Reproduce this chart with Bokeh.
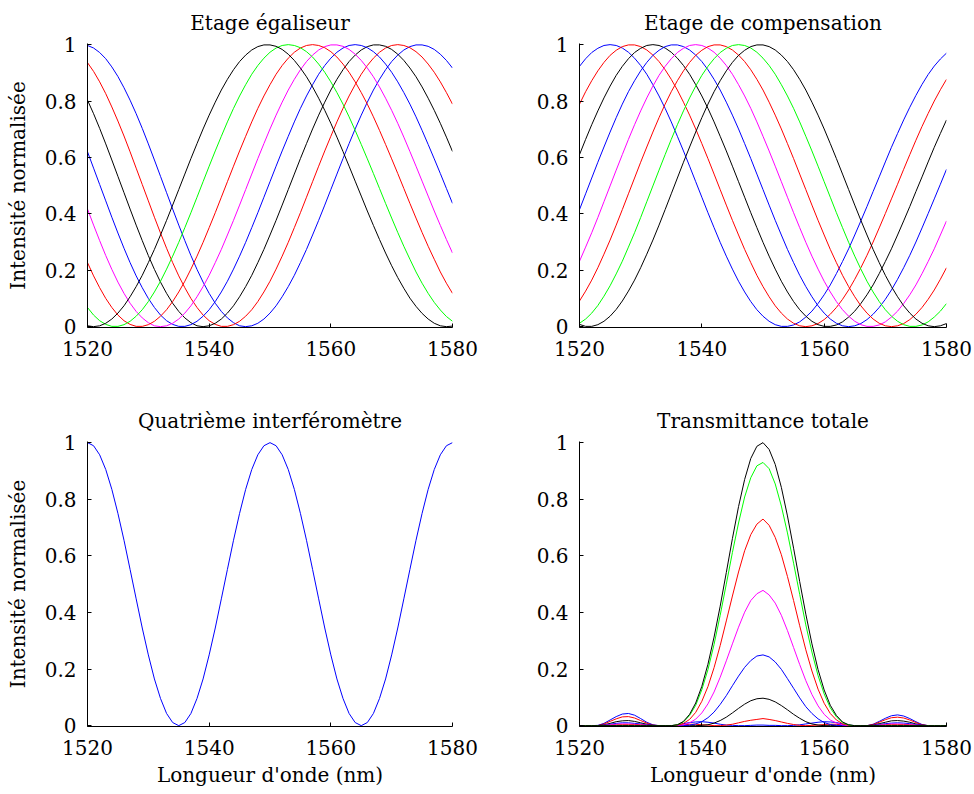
from bokeh.plotting import figure
from bokeh.layouts import row, column
from bokeh.models import Range1d, FixedTicker, NumeralTickFormatter
from bokeh.embed import file_html
from bokeh.resources import INLINE

# ---------------- data ----------------
wavelength = [1520, 1521, 1522, 1523, 1524, 1525, 1526, 1527, 1528, 1529,
              1530, 1531, 1532, 1533, 1534, 1535, 1536, 1537, 1538, 1539,
              1540, 1541, 1542, 1543, 1544, 1545, 1546, 1547, 1548, 1549,
              1550, 1551, 1552, 1553, 1554, 1555, 1556, 1557, 1558, 1559,
              1560, 1561, 1562, 1563, 1564, 1565, 1566, 1567, 1568, 1569,
              1570, 1571, 1572, 1573, 1574, 1575, 1576, 1577, 1578, 1579,
              1580]

x_ticks = [1520, 1540, 1560, 1580]
y_ticks = [0, 0.2, 0.4, 0.6, 0.8, 1]

# Etage egaliseur (top left)
tl_blue_a = [0.997, 0.988, 0.972, 0.950, 0.921, 0.887, 0.847, 0.803, 0.755, 0.703, 0.648, 0.591, 0.533, 0.475, 0.417, 0.360, 0.305, 0.252, 0.203, 0.158, 0.118, 0.083, 0.054, 0.031, 0.014, 0.003,
             0.000, 0.003, 0.012, 0.027, 0.048, 0.074, 0.106, 0.142, 0.182, 0.227, 0.274, 0.325, 0.377, 0.431, 0.486, 0.541, 0.596, 0.649, 0.701, 0.750, 0.796, 0.839, 0.877, 0.911, 0.940, 0.963, 0.981, 0.993, 0.999,
             0.999, 0.994, 0.983, 0.966, 0.944, 0.917]
tl_red_a = [0.936, 0.905, 0.868, 0.826, 0.779, 0.729, 0.676, 0.620, 0.562, 0.504, 0.446, 0.388, 0.332, 0.278, 0.227, 0.180, 0.138, 0.100, 0.068, 0.041, 0.021, 0.008, 0.001,
            0.001, 0.007, 0.019, 0.037, 0.060, 0.089, 0.123, 0.161, 0.204, 0.250, 0.299, 0.351, 0.404, 0.459, 0.514, 0.569, 0.623, 0.675, 0.726, 0.774, 0.818, 0.858, 0.895, 0.926, 0.952, 0.973, 0.988, 0.997, 1.000,
            0.997, 0.989, 0.975, 0.956, 0.931, 0.902, 0.868, 0.830, 0.789]
tl_black_a = [0.803, 0.755, 0.703, 0.648, 0.591, 0.533, 0.475, 0.417, 0.360, 0.305, 0.252, 0.203, 0.158, 0.118, 0.083, 0.054, 0.031, 0.014, 0.003,
              0.000, 0.003, 0.012, 0.027, 0.048, 0.074, 0.106, 0.142, 0.182, 0.227, 0.274, 0.325, 0.377, 0.431, 0.486, 0.541, 0.596, 0.649, 0.701, 0.750, 0.796, 0.839, 0.877, 0.911, 0.940, 0.963, 0.981, 0.993, 0.999,
              0.999, 0.994, 0.983, 0.966, 0.944, 0.917, 0.886, 0.850, 0.810, 0.767, 0.721, 0.672, 0.621]
tl_blue_b = [0.620, 0.562, 0.504, 0.446, 0.388, 0.332, 0.278, 0.227, 0.180, 0.138, 0.100, 0.068, 0.041, 0.021, 0.008, 0.001,
             0.001, 0.007, 0.019, 0.037, 0.060, 0.089, 0.123, 0.161, 0.204, 0.250, 0.299, 0.351, 0.404, 0.459, 0.514, 0.569, 0.623, 0.675, 0.726, 0.774, 0.818, 0.858, 0.895, 0.926, 0.952, 0.973, 0.988, 0.997, 1.000,
             0.997, 0.989, 0.975, 0.956, 0.931, 0.902, 0.868, 0.830, 0.789, 0.744, 0.696, 0.646, 0.595, 0.543, 0.490, 0.437]
tl_magenta = [0.417, 0.360, 0.305, 0.252, 0.203, 0.158, 0.118, 0.083, 0.054, 0.031, 0.014, 0.003,
              0.000, 0.003, 0.012, 0.027, 0.048, 0.074, 0.106, 0.142, 0.182, 0.227, 0.274, 0.325, 0.377, 0.431, 0.486, 0.541, 0.596, 0.649, 0.701, 0.750, 0.796, 0.839, 0.877, 0.911, 0.940, 0.963, 0.981, 0.993, 0.999,
              0.999, 0.994, 0.983, 0.966, 0.944, 0.917, 0.886, 0.850, 0.810, 0.767, 0.721, 0.672, 0.621, 0.569, 0.516, 0.463, 0.410, 0.359, 0.309, 0.261]
tl_red_b = [0.227, 0.180, 0.138, 0.100, 0.068, 0.041, 0.021, 0.008, 0.001,
            0.001, 0.007, 0.019, 0.037, 0.060, 0.089, 0.123, 0.161, 0.204, 0.250, 0.299, 0.351, 0.404, 0.459, 0.514, 0.569, 0.623, 0.675, 0.726, 0.774, 0.818, 0.858, 0.895, 0.926, 0.952, 0.973, 0.988, 0.997, 1.000,
            0.997, 0.989, 0.975, 0.956, 0.931, 0.902, 0.868, 0.830, 0.789, 0.744, 0.696, 0.646, 0.595, 0.543, 0.490, 0.437, 0.385, 0.334, 0.285, 0.239, 0.194, 0.154, 0.118]
tl_green = [0.068, 0.041, 0.021, 0.008, 0.001,
            0.001, 0.007, 0.019, 0.037, 0.060, 0.089, 0.123, 0.161, 0.204, 0.250, 0.299, 0.351, 0.404, 0.459, 0.514, 0.569, 0.623, 0.675, 0.726, 0.774, 0.818, 0.858, 0.895, 0.926, 0.952, 0.973, 0.988, 0.997, 1.000,
            0.997, 0.989, 0.975, 0.956, 0.931, 0.902, 0.868, 0.830, 0.789, 0.744, 0.696, 0.646, 0.595, 0.543, 0.490, 0.437, 0.385, 0.334, 0.285, 0.239, 0.194, 0.154, 0.118, 0.086, 0.059, 0.036, 0.019]
tl_black_b = [0.003,
              0.000, 0.003, 0.012, 0.027, 0.048, 0.074, 0.106, 0.142, 0.182, 0.227, 0.274, 0.325, 0.377, 0.431, 0.486, 0.541, 0.596, 0.649, 0.701, 0.750, 0.796, 0.839, 0.877, 0.911, 0.940, 0.963, 0.981, 0.993, 0.999,
              0.999, 0.994, 0.983, 0.966, 0.944, 0.917, 0.886, 0.850, 0.810, 0.767, 0.721, 0.672, 0.621, 0.569, 0.516, 0.463, 0.410, 0.359, 0.309, 0.261, 0.216, 0.174, 0.136, 0.101, 0.072, 0.047, 0.027, 0.012, 0.003, 0.000, 0.002]

# Etage de compensation (top right)
tr_blue_a = [0.923, 0.950, 0.972, 0.987, 0.997,
             1.000, 0.997, 0.988, 0.973, 0.952, 0.926, 0.895, 0.858, 0.818, 0.774, 0.726, 0.675, 0.623, 0.569, 0.514, 0.459, 0.404, 0.351, 0.299, 0.250, 0.204, 0.161, 0.123, 0.089, 0.060, 0.037, 0.019, 0.007, 0.001,
             0.001, 0.006, 0.017, 0.034, 0.055, 0.082, 0.113, 0.148, 0.188, 0.231, 0.276, 0.325, 0.375, 0.426, 0.479, 0.531, 0.584, 0.636, 0.685, 0.733, 0.778, 0.820, 0.859, 0.894, 0.924, 0.949, 0.970]
tr_red_a = [0.789, 0.833, 0.872, 0.907, 0.937, 0.962, 0.980, 0.993, 0.999,
            0.999, 0.993, 0.981, 0.963, 0.940, 0.911, 0.877, 0.839, 0.796, 0.750, 0.701, 0.649, 0.596, 0.541, 0.486, 0.431, 0.377, 0.325, 0.274, 0.227, 0.182, 0.142, 0.106, 0.074, 0.048, 0.027, 0.012, 0.003, 0.000,
            0.003, 0.011, 0.025, 0.044, 0.068, 0.097, 0.130, 0.168, 0.209, 0.253, 0.300, 0.350, 0.401, 0.453, 0.505, 0.558, 0.610, 0.661, 0.710, 0.756, 0.800, 0.840, 0.877]
tr_black_a = [0.610, 0.664, 0.716, 0.765, 0.811, 0.853, 0.891, 0.923, 0.950, 0.972, 0.987, 0.997,
              1.000, 0.997, 0.988, 0.973, 0.952, 0.926, 0.895, 0.858, 0.818, 0.774, 0.726, 0.675, 0.623, 0.569, 0.514, 0.459, 0.404, 0.351, 0.299, 0.250, 0.204, 0.161, 0.123, 0.089, 0.060, 0.037, 0.019, 0.007, 0.001,
              0.001, 0.006, 0.017, 0.034, 0.055, 0.082, 0.113, 0.148, 0.188, 0.231, 0.276, 0.325, 0.375, 0.426, 0.479, 0.531, 0.584, 0.636, 0.685, 0.733]
tr_blue_b = [0.415, 0.471, 0.527, 0.583, 0.637, 0.690, 0.741, 0.789, 0.833, 0.872, 0.907, 0.937, 0.962, 0.980, 0.993, 0.999,
             0.999, 0.993, 0.981, 0.963, 0.940, 0.911, 0.877, 0.839, 0.796, 0.750, 0.701, 0.649, 0.596, 0.541, 0.486, 0.431, 0.377, 0.325, 0.274, 0.227, 0.182, 0.142, 0.106, 0.074, 0.048, 0.027, 0.012, 0.003, 0.000,
             0.003, 0.011, 0.025, 0.044, 0.068, 0.097, 0.130, 0.168, 0.209, 0.253, 0.300, 0.350, 0.401, 0.453, 0.505, 0.558]
tr_magenta = [0.232, 0.282, 0.333, 0.387, 0.443, 0.499, 0.555, 0.610, 0.664, 0.716, 0.765, 0.811, 0.853, 0.891, 0.923, 0.950, 0.972, 0.987, 0.997,
              1.000, 0.997, 0.988, 0.973, 0.952, 0.926, 0.895, 0.858, 0.818, 0.774, 0.726, 0.675, 0.623, 0.569, 0.514, 0.459, 0.404, 0.351, 0.299, 0.250, 0.204, 0.161, 0.123, 0.089, 0.060, 0.037, 0.019, 0.007, 0.001,
              0.001, 0.006, 0.017, 0.034, 0.055, 0.082, 0.113, 0.148, 0.188, 0.231, 0.276, 0.325, 0.375]
tr_red_b = [0.091, 0.126, 0.165, 0.209, 0.257, 0.307, 0.360, 0.415, 0.471, 0.527, 0.583, 0.637, 0.690, 0.741, 0.789, 0.833, 0.872, 0.907, 0.937, 0.962, 0.980, 0.993, 0.999,
            0.999, 0.993, 0.981, 0.963, 0.940, 0.911, 0.877, 0.839, 0.796, 0.750, 0.701, 0.649, 0.596, 0.541, 0.486, 0.431, 0.377, 0.325, 0.274, 0.227, 0.182, 0.142, 0.106, 0.074, 0.048, 0.027, 0.012, 0.003, 0.000,
            0.003, 0.011, 0.025, 0.044, 0.068, 0.097, 0.130, 0.168, 0.209]
tr_green = [0.012, 0.027, 0.048, 0.075, 0.108, 0.145, 0.187, 0.232, 0.282, 0.333, 0.387, 0.443, 0.499, 0.555, 0.610, 0.664, 0.716, 0.765, 0.811, 0.853, 0.891, 0.923, 0.950, 0.972, 0.987, 0.997,
            1.000, 0.997, 0.988, 0.973, 0.952, 0.926, 0.895, 0.858, 0.818, 0.774, 0.726, 0.675, 0.623, 0.569, 0.514, 0.459, 0.404, 0.351, 0.299, 0.250, 0.204, 0.161, 0.123, 0.089, 0.060, 0.037, 0.019, 0.007, 0.001,
            0.001, 0.006, 0.017, 0.034, 0.055, 0.082]
tr_black_b = [0.008, 0.001, 0.001, 0.007, 0.019, 0.037, 0.061, 0.091, 0.126, 0.165, 0.209, 0.257, 0.307, 0.360, 0.415, 0.471, 0.527, 0.583, 0.637, 0.690, 0.741, 0.789, 0.833, 0.872, 0.907, 0.937, 0.962, 0.980, 0.993, 0.999,
              0.999, 0.993, 0.981, 0.963, 0.940, 0.911, 0.877, 0.839, 0.796, 0.750, 0.701, 0.649, 0.596, 0.541, 0.486, 0.431, 0.377, 0.325, 0.274, 0.227, 0.182, 0.142, 0.106, 0.074, 0.048, 0.027, 0.012, 0.003, 0.000,
              0.003, 0.011]

# Quatrieme interferometre (bottom left)
bl_blue = [1.000, 0.989, 0.957, 0.905, 0.835, 0.750, 0.655, 0.552, 0.448, 0.345, 0.250, 0.165, 0.096, 0.043, 0.011,
           0.000, 0.011, 0.043, 0.096, 0.165, 0.250, 0.345, 0.448, 0.552, 0.655, 0.750, 0.835, 0.905, 0.957, 0.989,
           1.000, 0.989, 0.957, 0.905, 0.835, 0.750, 0.655, 0.552, 0.448, 0.345, 0.250, 0.165, 0.096, 0.043, 0.011,
           0.000, 0.011, 0.043, 0.096, 0.165, 0.250, 0.345, 0.448, 0.552, 0.655, 0.750, 0.835, 0.905, 0.957, 0.989,
           1.000]

# Transmittance totale (bottom right)
br_blue_a = [0, 0, 0, 0.001, 0.008, 0.020, 0.032, 0.041, 0.043, 0.037, 0.025, 0.012, 0.003, 0, 0,
             0, 0.002, 0.007, 0.011, 0.013, 0.014, 0.012, 0.009, 0.005, 0.002, 0.001, 0, 0, 0.001, 0.002, 0.002, 0.001, 0.001, 0, 0, 0.001, 0.003, 0.006, 0.009, 0.012, 0.014, 0.013, 0.011, 0.006, 0.002, 0,
             0, 0, 0.005, 0.015, 0.026, 0.035, 0.038, 0.034, 0.025, 0.014, 0.004, 0, 0, 0, 0]
br_red_a = [0, 0, 0, 0, 0.006, 0.015, 0.024, 0.031, 0.032, 0.027, 0.018, 0.009, 0.002, 0, 0,
            0, 0.001, 0.003, 0.005, 0.005, 0.003, 0.002, 0, 0, 0.002, 0.005, 0.010, 0.015, 0.019, 0.022, 0.025, 0.022, 0.018, 0.013, 0.008, 0.004, 0.001, 0, 0.001, 0.002, 0.004, 0.005, 0.005, 0.003, 0.001, 0,
            0, 0, 0.004, 0.012, 0.021, 0.028, 0.030, 0.027, 0.020, 0.011, 0.003, 0, 0, 0, 0]
br_black_a = [0, 0, 0, 0, 0.003, 0.008, 0.014, 0.017, 0.018, 0.015, 0.010, 0.005, 0.001, 0, 0,
              0, 0, 0.001, 0, 0, 0.001, 0.003, 0.009, 0.018, 0.030, 0.045, 0.061, 0.076, 0.088, 0.095, 0.097, 0.093, 0.084, 0.071, 0.056, 0.040, 0.026, 0.014, 0.006, 0.002, 0, 0, 0.001, 0.001, 0, 0,
              0, 0, 0.002, 0.007, 0.012, 0.017, 0.018, 0.016, 0.012, 0.006, 0.002, 0, 0, 0, 0]
br_blue_b = [0, 0, 0, 0, 0.002, 0.005, 0.008, 0.010, 0.010, 0.008, 0.006, 0.003, 0.001, 0, 0,
             0, 0, 0, 0.002, 0.006, 0.014, 0.028, 0.048, 0.075, 0.106, 0.141, 0.175, 0.206, 0.230, 0.246, 0.250, 0.243, 0.225, 0.199, 0.166, 0.132, 0.098, 0.067, 0.043, 0.024, 0.011, 0.004, 0.001, 0, 0, 0,
             0, 0, 0.001, 0.004, 0.007, 0.009, 0.010, 0.009, 0.007, 0.004, 0.001, 0, 0, 0, 0]
br_magenta = [0, 0, 0, 0, 0.001, 0.003, 0.005, 0.006, 0.006, 0.005, 0.003, 0.002, 0, 0, 0,
              0, 0.001, 0.003, 0.010, 0.023, 0.045, 0.077, 0.119, 0.171, 0.229, 0.289, 0.348, 0.401, 0.442, 0.466, 0.478, 0.462, 0.433, 0.390, 0.336, 0.276, 0.216, 0.159, 0.110, 0.070, 0.040, 0.020, 0.009, 0.003, 0, 0,
              0, 0, 0.001, 0.002, 0.004, 0.006, 0.006, 0.005, 0.004, 0.002, 0.001, 0, 0, 0, 0]
br_red_b = [0, 0, 0, 0, 0.001, 0.001, 0.002, 0.003, 0.003, 0.003, 0.002, 0.001, 0, 0, 0,
            0, 0.002, 0.008, 0.022, 0.047, 0.086, 0.138, 0.205, 0.283, 0.370, 0.458, 0.543, 0.618, 0.675, 0.712, 0.730, 0.708, 0.665, 0.604, 0.527, 0.442, 0.353, 0.268, 0.193, 0.129, 0.079, 0.043, 0.020, 0.007, 0.001, 0,
            0, 0, 0, 0.001, 0.002, 0.003, 0.003, 0.003, 0.002, 0.001, 0, 0, 0, 0, 0]
br_green = [0, 0, 0, 0, 0, 0, 0, 0, 0, 0, 0, 0, 0, 0, 0,
            0, 0.003, 0.013, 0.036, 0.072, 0.127, 0.198, 0.287, 0.390, 0.500, 0.612, 0.716, 0.808, 0.876, 0.918, 0.930, 0.908, 0.854, 0.776, 0.681, 0.574, 0.464, 0.356, 0.260, 0.177, 0.112, 0.063, 0.031, 0.011, 0.002, 0,
            0, 0, 0, 0, 0, 0, 0, 0, 0, 0, 0, 0, 0, 0, 0]
br_black_b = [0, 0, 0, 0, 0, 0, 0, 0, 0, 0, 0, 0, 0, 0, 0,
              0, 0.003, 0.015, 0.040, 0.080, 0.139, 0.217, 0.313, 0.422, 0.541, 0.661, 0.774, 0.870, 0.944, 0.987, 1.000, 0.976, 0.923, 0.842, 0.741, 0.627, 0.509, 0.394, 0.289, 0.198, 0.126, 0.072, 0.036, 0.013, 0.003, 0,
              0, 0, 0, 0, 0, 0, 0, 0, 0, 0, 0, 0, 0, 0, 0]

# plotting order (first drawn first) and colours
colors = ["#0000ff", "#ff0000", "#000000", "#0000ff", "#ff00ff", "#ff0000", "#00ff00", "#000000"]
tl_series = [tl_blue_a, tl_red_a, tl_black_a, tl_blue_b, tl_magenta, tl_red_b, tl_green, tl_black_b]
tr_series = [tr_blue_a, tr_red_a, tr_black_a, tr_blue_b, tr_magenta, tr_red_b, tr_green, tr_black_b]
br_series = [br_blue_a, br_red_a, br_black_a, br_blue_b, br_magenta, br_red_b, br_green, br_black_b]

FONT = "DejaVu Serif"
FS = "20px"


def panel(title, series, cols, width, height, b_left, b_right, b_top, b_bottom,
          ylabel=None, xlabel=None):
    p = figure(width=width, height=height,
               x_range=Range1d(1520, 1580), y_range=Range1d(-0.003, 1.004),
               output_backend="svg", toolbar_location=None, tools="",
               min_border_left=b_left, min_border_right=b_right,
               min_border_top=b_top, min_border_bottom=b_bottom)
    p.outline_line_color = None
    p.xgrid.visible = False
    p.ygrid.visible = False
    p.background_fill_color = "white"
    p.border_fill_color = "white"

    p.title.text = title
    p.title.align = "center"
    p.title.text_font = FONT
    p.title.text_font_size = "20px"
    p.title.text_font_style = "normal"
    p.title.text_color = "black"
    p.title.standoff = 17

    for ys, c in zip(series, cols):
        p.line(wavelength, ys, line_color=c, line_width=1)

    p.xaxis.ticker = FixedTicker(ticks=x_ticks)
    p.yaxis.ticker = FixedTicker(ticks=y_ticks)
    p.yaxis.formatter = NumeralTickFormatter(format="0.[0]")
    for ax in (p.xaxis[0], p.yaxis[0]):
        ax.axis_line_color = "black"
        ax.axis_line_width = 1
        ax.major_tick_in = 4
        ax.major_tick_out = 0
        ax.minor_tick_in = 0
        ax.minor_tick_out = 0
        ax.major_tick_line_color = "black"
        ax.major_label_text_font = FONT
        ax.major_label_text_font_size = FS
        ax.major_label_text_color = "black"
        ax.axis_label_text_font = FONT
        ax.axis_label_text_font_size = FS
        ax.axis_label_text_font_style = "normal"
        ax.axis_label_text_color = "black"
    p.xaxis.major_label_standoff = 13
    p.yaxis.major_label_standoff = 11
    if ylabel:
        p.yaxis.axis_label = ylabel
        p.yaxis.axis_label_standoff = 12
    if xlabel:
        p.xaxis.axis_label = xlabel
        p.xaxis.axis_label_standoff = 5
    return p


# page origin is the top-left corner of the window
tl = panel("Etage égaliseur", tl_series, colors, 512, 377, 87, 60, 43, 50,
           ylabel="Intensité normalisée")
tr = panel("Etage de compensation", tr_series, colors, 460, 377, 67, 26, 43, 50)
bl = panel("Quatrième interféromètre", [bl_blue], ["#0000ff"], 512, 413, 87, 60, 64, 64,
           ylabel="Intensité normalisée", xlabel="Longueur d'onde (nm)")
br = panel("Transmittance totale", br_series, colors, 460, 413, 67, 26, 64, 64,
           xlabel="Longueur d'onde (nm)")

layout = column(row(tl, tr), row(bl, br))
open("out.html", "w").write(file_html(layout, INLINE))
